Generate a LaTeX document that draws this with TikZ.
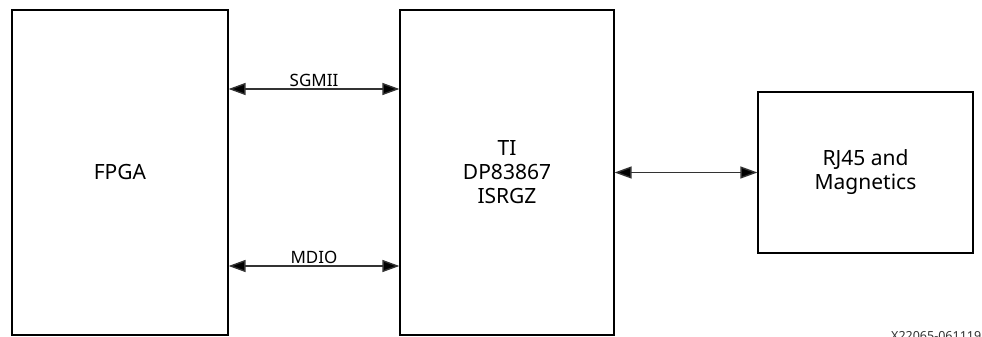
\documentclass[tikz,border=0pt]{standalone}
\usepackage{fontspec}
\setmainfont{Noto Sans}
\usepackage{tikz}
\usetikzlibrary{arrows.meta}

\begin{document}
\begin{tikzpicture}[x=1pt, y=-1pt,
    blk/.style={draw=black, line width=2.2pt, minimum width=#1, inner sep=0pt, align=center, font=\fontsize{21}{24}\selectfont},
    link/.style={draw=black!80, line width=1.4pt, {Triangle[length=17pt, width=12pt, fill=black]}-{Triangle[length=17pt, width=12pt, fill=black]}, shorten <=-0.5pt, shorten >=-0.5pt},
    lbl/.style={font=\fontsize{17}{20}\selectfont, inner sep=2pt}]
             \useasboundingbox (0, 0) rectangle (982, 337);

             \node[blk=216pt, minimum height=325pt] (fpga) at (120, 172.5) {FPGA};
             \node[blk=214pt, minimum height=325pt] (phy) at (507, 172.5) {TI\\DP83867\\ISRGZ};
             \node[blk=215pt, minimum height=161pt] (rj45) at (865.5, 172.5) {RJ45 and\\Magnetics};

             \coordinate (sgmii) at (0, 89);
             \coordinate (mdio) at (0, 266);

             \draw[link] (fpga.east |- sgmii) -- node[lbl, above] {SGMII} (phy.west |- sgmii);
             \draw[link] (fpga.east |- mdio) -- node[lbl, above] {MDIO} (phy.west |- mdio);
             \draw[link] (phy.east) -- (rj45.west);

             \node[anchor=north west, inner sep=0pt, font=\fontsize{12.5}{14}\selectfont, text=black!80] (fig) at (891, 331) {X22065-061119};
             \end{tikzpicture}
\end{document}
